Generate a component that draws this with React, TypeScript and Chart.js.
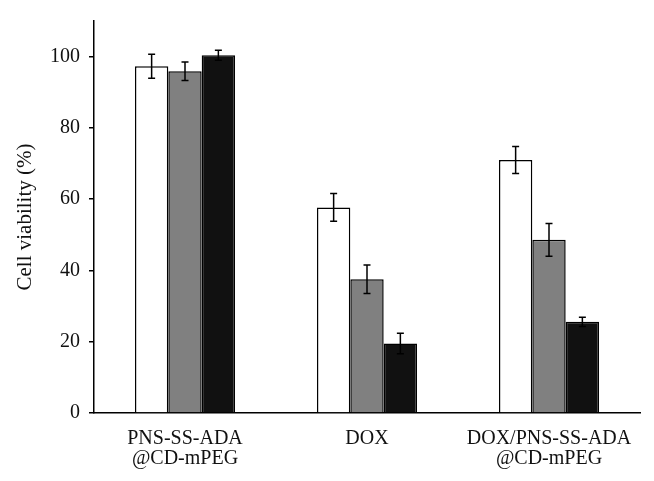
import React, { useEffect, useRef } from "react";
import { Chart, registerables } from "chart.js";

Chart.register(...registerables);

const categories: string[][] = [
  ["PNS-SS-ADA", "@CD-mPEG"],
  ["DOX"],
  ["DOX/PNS-SS-ADA", "@CD-mPEG"],
];

const seriesWhite = [97.3, 57.7, 71.0];
const errWhite = [3.4, 3.9, 3.8];
const seriesGray = [95.9, 37.5, 48.6];
const errGray = [2.6, 4.0, 4.6];
const seriesBlack = [100.4, 19.5, 25.6];
const errBlack = [1.4, 2.9, 1.3];

const yTicks = [0, 20, 40, 60, 80, 100];

const errorBarPlugin = {
  id: "errorBars",
  afterDatasetsDraw(chart: any) {
    const ctx = chart.ctx;
    const yScale = chart.scales.y;
    chart.data.datasets.forEach((ds: any, i: number) => {
      const meta = chart.getDatasetMeta(i);
      meta.data.forEach((bar: any, j: number) => {
        const v = ds.data[j];
        const e = ds.errors[j];
        const yTop = yScale.getPixelForValue(v + e);
        const yBot = yScale.getPixelForValue(v - e);
        const x = bar.x;
        const cap = 3.5;
        ctx.save();
        ctx.strokeStyle = "#000";
        ctx.lineWidth = 1.5;
        ctx.beginPath();
        ctx.moveTo(x, yTop);
        ctx.lineTo(x, yBot);
        ctx.moveTo(x - cap, yTop);
        ctx.lineTo(x + cap, yTop);
        ctx.moveTo(x - cap, yBot);
        ctx.lineTo(x + cap, yBot);
        ctx.stroke();
        ctx.restore();
      });
    });
  },
};

export default function App() {
  const ref = useRef<HTMLCanvasElement | null>(null);
  useEffect(() => {
    if (!ref.current) return;
    const font = "'Liberation Serif', 'Times New Roman', serif";
    const chart = new Chart(ref.current, {
      type: "bar",
      data: {
        labels: categories,
        datasets: [
          {
            data: seriesWhite,
            errors: errWhite,
            backgroundColor: "#ffffff",
            borderColor: "#000000",
            borderWidth: 1.5,
          } as any,
          {
            data: seriesGray,
            errors: errGray,
            backgroundColor: "#808080",
            borderColor: "#000000",
            borderWidth: 1.5,
          } as any,
          {
            data: seriesBlack,
            errors: errBlack,
            backgroundColor: "#111111",
            borderColor: "#000000",
            borderWidth: 1.5,
          } as any,
        ],
      },
      options: {
        responsive: false,
        animation: false,
        layout: { padding: { left: 0, right: 14, top: 13, bottom: 0 } },
        plugins: {
          legend: { display: false },
          tooltip: { enabled: false },
        },
        datasets: {
          bar: { categoryPercentage: 0.55, barPercentage: 1.0 },
        },
        scales: {
          x: {
            grid: { display: false, drawTicks: false },
            border: { display: true, color: "#000", width: 1.5 },
            ticks: {
              color: "#111",
              padding: 16,
              font: { family: font, size: 20, lineHeight: 1.0 },
              maxRotation: 0,
              autoSkip: false,
            },
            afterFit(scale: any) {
              scale.height = 68;
            },
          },
          y: {
            min: 0,
            max: 110,
            grid: {
              display: true,
              drawOnChartArea: false,
              drawTicks: true,
              tickLength: 5,
              color: "#000",
              lineWidth: 1.5,
            },
            border: { display: true, color: "#000", width: 1.5 },
            ticks: {
              stepSize: 20,
              includeBounds: false,
              color: "#111",
              padding: 9,
              font: { family: font, size: 20 },
              callback: (v: any) => (yTicks.includes(Number(v)) ? String(v) : ""),
            },
            title: {
              display: true,
              text: "Cell viability (%)",
              color: "#111",
              font: { family: font, size: 21 },
              padding: { top: 13, bottom: 0 },
            },
            afterFit(scale: any) {
              scale.width = 94;
            },
          },
        },
      },
      plugins: [errorBarPlugin],
    } as any);
    return () => chart.destroy();
  }, []);
  return (
    <div style={{ position: "absolute", left: 0, top: 0, width: 654, height: 481, background: "#fff" }}>
      <canvas ref={ref} width={654} height={481} style={{ display: "block" }} />
    </div>
  );
}
